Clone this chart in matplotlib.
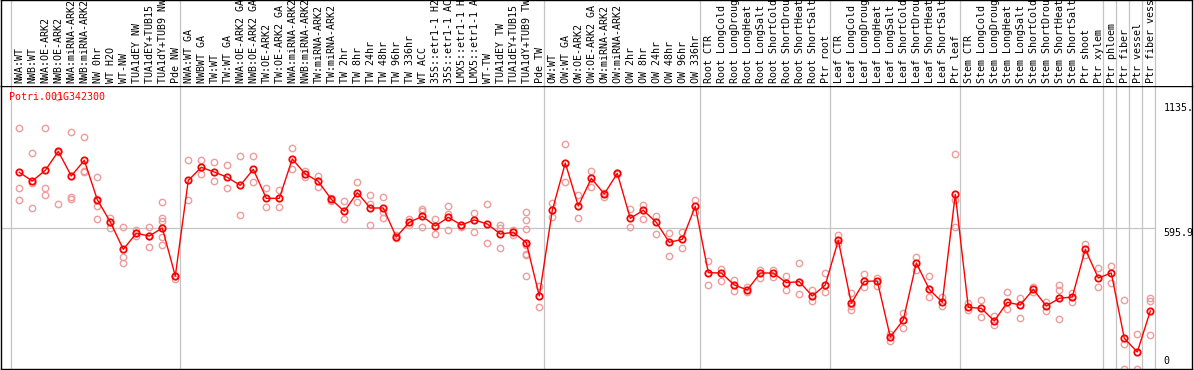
import matplotlib
matplotlib.use('Agg')
import matplotlib.pyplot as plt
import matplotlib.transforms as mtransforms

# sample names, one column per sample
group_nw = ['NWA:WT', 'NWB:WT', 'NWA:OE-ARK2', 'NWB:OE-ARK2', 'NWA:miRNA-ARK2', 'NWB:miRNA-ARK2',
            'NW 0hr', 'WT H2O', 'WT-NW', 'TUA1dEY NW', 'TUA1dEY+TUB15 NW', 'TUA1dY+TUB9 NW', 'Pde NW']
group_tw = ['NWA:WT GA', 'NWBWT GA', 'TW:WT', 'TW:WT GA', 'NWA:OE-ARK2 GA', 'NWB:OE-ARK2 GA',
            'TW:OE-ARK2', 'TW:OE-ARK2 GA', 'NWA:miRNA-ARK2 GA', 'NWB:miRNA-ARK2 GA', 'TW:miRNA-ARK2',
            'TW:miRNA-ARK2 GA', 'TW 2hr', 'TW 8hr', 'TW 24hr', 'TW 48hr', 'TW 96hr', 'TW 336hr', 'WT ACC',
            '35S::etr1-1 H2O', '35S::etr1-1 ACC', 'LMX5::etr1-1 H2O', 'LMX5::etr1-1 ACC', 'WT-TW',
            'TUA1dEY TW', 'TUA1dEY+TUB15 TW', 'TUA1dY+TUB9 TW', 'Pde TW']
group_ow = ['OW:WT', 'OW:WT GA', 'OW:OE-ARK2', 'OW:OE-ARK2 GA', 'OW:miRNA-ARK2', 'OW:miRNA-ARK2 GA',
            'OW 2hr', 'OW 8hr', 'OW 24hr', 'OW 48hr', 'OW 96hr', 'OW 336hr']
stress = ['CTR', 'LongCold', 'LongDrought', 'LongHeat', 'LongSalt',
          'ShortCold', 'ShortDrought', 'ShortHeat', 'ShortSalt']
group_root = ['Root ' + s for s in stress] + ['Ptr root']
group_leaf = ['Leaf ' + s for s in stress] + ['Ptr leaf']
group_stem = ['Stem ' + s for s in stress] + ['Ptr shoot', 'Ptr xylem']
group_ptr = ['Ptr phloem', 'Ptr fiber', 'Ptr vessel', 'Ptr fiber vessel']

groups = [group_nw, group_tw, group_ow, group_root, group_leaf, group_stem] + [[g] for g in group_ptr]
labels = [name for g in groups for name in g]

# mean expression per sample
means = [835.5, 798.2, 844.1, 925.8, 819.7, 887.1, 717.9, 621.8, 504.2, 573.0, 561.5, 596.0, 389.4,
         801.1, 857.0, 836.9, 814.0, 779.5, 848.4, 723.6, 723.6, 892.9, 828.3, 796.8, 719.3, 667.7,
         748.0, 682.0, 682.0, 557.2, 620.3, 646.2, 604.6, 641.8, 608.9, 630.4, 613.2, 570.1, 577.3,
         532.8, 303.4,
         672.0, 875.6, 690.6, 809.7, 742.3, 831.2, 637.6, 672.0, 620.3, 534.3, 547.2, 689.2,
         403.8, 402.3, 350.7, 329.2, 402.3, 402.3, 360.7, 365.0, 303.4, 350.7,
         542.9, 271.8, 366.5, 367.9, 126.9, 200.1, 445.4, 332.0, 276.1, 740.8,
         254.6, 250.3, 195.8, 276.1, 264.6, 332.0, 260.3, 293.3, 299.1, 504.2, 380.8,
         402.3, 121.2, 62.4, 238.8]

# replicate values per sample
replicates = [
    [1024.8, 766.6, 715.0], [918.7, 788.1, 682.0], [1024.8, 766.6, 736.5], [1158.2, 921.5, 697.8],
    [1009.0, 727.9, 720.7], [986.1, 841.2, 835.5], [814.0, 720.7, 689.2, 634.7], [639.0, 596.0, 621.8],
    [598.8, 472.6, 443.9], [587.3, 563.0, 575.9], [598.8, 512.8, 561.5],
    [707.8, 639.0, 627.5, 558.7, 521.4], [389.4, 377.9],
    [888.5, 715.0], [888.5, 828.3], [879.9, 796.8], [865.6, 766.6], [904.3, 650.5], [904.3, 792.5],
    [766.6, 684.9], [759.5, 687.7], [938.7, 848.4], [842.6, 814.0], [819.7, 773.8], [723.6, 713.6],
    [710.7, 633.2], [792.5, 707.8], [736.5, 607.4, 699.2], [727.9, 640.4, 664.8], [564.4, 552.9],
    [633.2, 608.9], [679.1, 667.7, 600.3], [634.7, 571.6], [689.2, 585.9, 656.2], [608.9, 601.7],
    [661.9, 577.3], [697.8, 530.0], [610.3, 594.5, 508.5], [587.3, 567.0],
    [664.8, 631.8, 590.2, 522.8, 482.6, 478.4, 388.0], [346.4, 254.6],
    [705.0, 644.7], [957.4, 792.5], [736.5, 639.0], [841.2, 773.8], [745.1, 727.9], [834.0, 828.3],
    [676.3, 601.7], [693.5, 636.1], [649.0, 568.7], [573.0, 475.5], [577.3, 509.9], [715.0, 664.8],
    [452.5, 349.3], [419.5, 369.3], [372.2, 323.4], [342.1, 320.6], [413.8, 382.2], [415.2, 383.7],
    [389.4, 330.6], [445.4, 310.5], [329.2, 283.3], [403.8, 320.6],
    [564.4, 530.0], [316.3, 260.3, 243.1], [398.0, 340.6], [379.4, 346.4], [138.4, 111.2],
    [231.6, 164.2], [472.6, 415.2], [388.0, 297.6], [300.5, 260.3], [912.9, 716.4, 598.8],
    [271.8, 243.1], [286.1, 211.6], [217.3, 178.6], [319.1, 247.4], [293.3, 210.1], [343.5, 320.6],
    [277.5, 238.8], [349.3, 329.2, 204.4], [317.7, 276.1], [527.1, 481.2], [423.8, 340.6],
    [432.4, 357.9], [286.1, 96.8, -12.2], [138.4, -9.3], [293.3, 281.8, 134.1]]

gene = 'Potri.001G342300'
ref_ticks = [1135., 595.9, 0]
ref_tick_text = ['1135.', '595.9', '0']

FONT = 'DejaVu Sans Mono'
FS = 7.2
GRID = '#c4c4c4'

W, H = 1194, 370
fig = plt.figure(figsize=(W / 100, H / 100), dpi=100)

# pixel layout: frame x 1..1192, header 0..86, plot 86..369
left, right = 1, 1192
head_top, plot_top, plot_bot = 0, 86, 369
ax = fig.add_axes([left / W, 1 - plot_bot / H, (right - left) / W, (plot_bot - plot_top) / H])
axh = fig.add_axes([left / W, 1 - plot_top / H, (right - left) / W, (plot_top - head_top) / H], sharex=ax)

xlo = (left - 19.3) / 13
xhi = (right - 19.3) / 13
ax.set_xlim(xlo, xhi)
ax.set_ylim(-10.8, 1207)
axh.set_ylim(0, 1)

for a in (ax, axh):
    a.set_xticks([])
    a.set_yticks([])
    for s in a.spines.values():
        s.set_linewidth(1.0)
        s.set_color('black')
axh.spines['bottom'].set_visible(False)

# group separators
x = list(range(len(labels)))
starts = [0]
for g in groups:
    starts.append(starts[-1] + len(g))
for b in starts:
    ax.axvline(b - 0.62, color=GRID, lw=0.9, zorder=1)
    axh.axvline(b - 0.62, color=GRID, lw=0.9, zorder=1)

end_frac = (starts[-1] - 0.62 - xlo) / (xhi - xlo)
ax.axhline(595.9, xmin=0, xmax=end_frac, color=GRID, lw=0.9, zorder=1)

# replicates
for i, reps in enumerate(replicates):
    ax.plot([i] * len(reps), reps, 'o', ms=4.6, mfc='none', mec='#ee9c9c', mew=1.0, zorder=2)

# means
ax.plot(x, means, '-', color='#ff0000', lw=1.0, zorder=3)
ax.plot(x, means, 'o', ms=4.6, mfc='none', mec='#ff0000', mew=1.3, zorder=4)

ax.text(0.007, 0.978, gene, transform=ax.transAxes, color='#ff0000',
        family=FONT, fontsize=FS, ha='left', va='top')

tick_x = (1163.3 - 19.3) / 13
for v, t in zip(ref_ticks, ref_tick_text):
    ax.text(tick_x, v, t, family=FONT, fontsize=FS, ha='left',
            va='bottom' if v == 0 else 'top')

# rotated sample names in the header
trans = mtransforms.blended_transform_factory(axh.transData, axh.transAxes)
for i, name in enumerate(labels):
    axh.text(i + 0.26, (plot_top - 83.3) / (plot_top - head_top), name, transform=trans,
             rotation=90, rotation_mode='anchor', ha='left', va='baseline',
             family=FONT, fontsize=FS, clip_on=True)

fig.savefig('out.png', dpi=100)
